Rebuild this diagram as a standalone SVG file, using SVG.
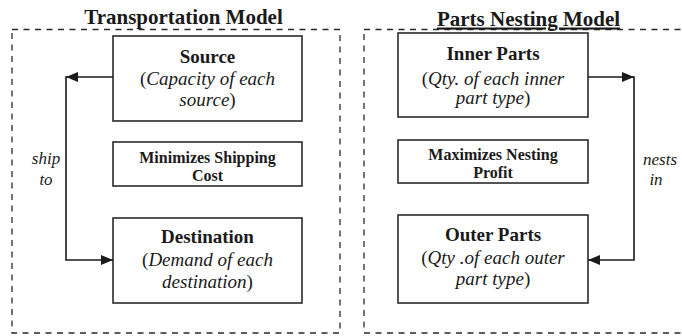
<svg xmlns="http://www.w3.org/2000/svg" width="682" height="336" viewBox="0 0 682 336">
<style>
  text { font-family: "Liberation Serif", "Times New Roman", "DejaVu Serif", serif; fill: #1a1a1a; text-anchor: middle; }
  .title { font-size: 21px; font-weight: bold; }
  .head { font-size: 19px; font-weight: bold; }
  .sub { font-size: 19px; }
  .obj { font-size: 16px; font-weight: bold; }
  .lbl { font-size: 17px; font-style: italic; }
  .it { font-style: italic; }
  .frame { fill: none; stroke: #2a2a2a; stroke-width: 1.3; stroke-dasharray: 6 5.5; }
  .box { fill: #fff; stroke: #2a2a2a; stroke-width: 1.6; }
  .conn { fill: none; stroke: #1a1a1a; stroke-width: 1.6; }
</style>
<defs>
  <marker id="arr" viewBox="0 0 12 10" refX="12" refY="5" markerWidth="12" markerHeight="10" markerUnits="userSpaceOnUse" orient="auto">
    <path d="M0,0 L12,5 L0,10 Z" fill="#1a1a1a"/>
  </marker>
</defs>
<rect width="682" height="336" fill="#fff"/>

<g id="transportation-model">
  <rect class="frame" x="12" y="29.5" width="328" height="303.5"/>
  <text class="title" x="183.5" y="23.5">Transportation Model</text>
</g>
<g id="parts-nesting-model">
  <rect class="frame" x="364" y="29.5" width="340" height="303.5"/>
  <text class="title" x="528.5" y="25.5" text-decoration="underline">Parts Nesting Model</text>
</g>

<g id="source">
  <rect class="box" x="113" y="36" width="189" height="85"/>
  <text class="head" x="207.5" y="63">Source</text>
  <text class="sub" x="207.5" y="85">(<tspan class="it">Capacity of each</tspan></text>
  <text class="sub" x="207.5" y="106"><tspan class="it">source</tspan>)</text>
</g>
<g id="minimizes">
  <rect class="box" x="113" y="142" width="189" height="44"/>
  <text class="obj" x="207.5" y="163">Minimizes Shipping</text>
  <text class="obj" x="207.5" y="181">Cost</text>
</g>
<g id="destination">
  <rect class="box" x="113" y="218" width="189" height="85"/>
  <text class="head" x="207.5" y="243">Destination</text>
  <text class="sub" x="207.5" y="266">(<tspan class="it">Demand of each</tspan></text>
  <text class="sub" x="207.5" y="288"><tspan class="it">destination</tspan>)</text>
</g>

<g id="inner-parts">
  <rect class="box" x="398" y="33" width="190" height="84"/>
  <text class="head" x="493" y="60">Inner Parts</text>
  <text class="sub" x="493" y="85">(<tspan class="it">Qty. of each inner</tspan></text>
  <text class="sub" x="493" y="104"><tspan class="it">part type</tspan>)</text>
</g>
<g id="maximizes">
  <rect class="box" x="398" y="140" width="190" height="43"/>
  <text class="obj" x="493" y="160">Maximizes Nesting</text>
  <text class="obj" x="493" y="178">Profit</text>
</g>
<g id="outer-parts">
  <rect class="box" x="398" y="215" width="190" height="88"/>
  <text class="head" x="493" y="241">Outer Parts</text>
  <text class="sub" x="493" y="264">(<tspan class="it">Qty .of each outer</tspan></text>
  <text class="sub" x="493" y="285"><tspan class="it">part type</tspan>)</text>
</g>

<g id="connectors">
  <path class="conn" d="M113,77 L66,77" marker-end="url(#arr)"/>
  <path class="conn" d="M66,76.2 L66,260 L113,260" marker-end="url(#arr)"/>
  <path class="conn" d="M588,77 L634,77" marker-end="url(#arr)"/>
  <path class="conn" d="M634,76.2 L634,260 L588,260" marker-end="url(#arr)"/>
  <text class="lbl" x="46" y="164">ship</text>
  <text class="lbl" x="46" y="185">to</text>
  <text class="lbl" x="660" y="165">nests</text>
  <text class="lbl" x="656" y="185">in</text>
</g>
</svg>
